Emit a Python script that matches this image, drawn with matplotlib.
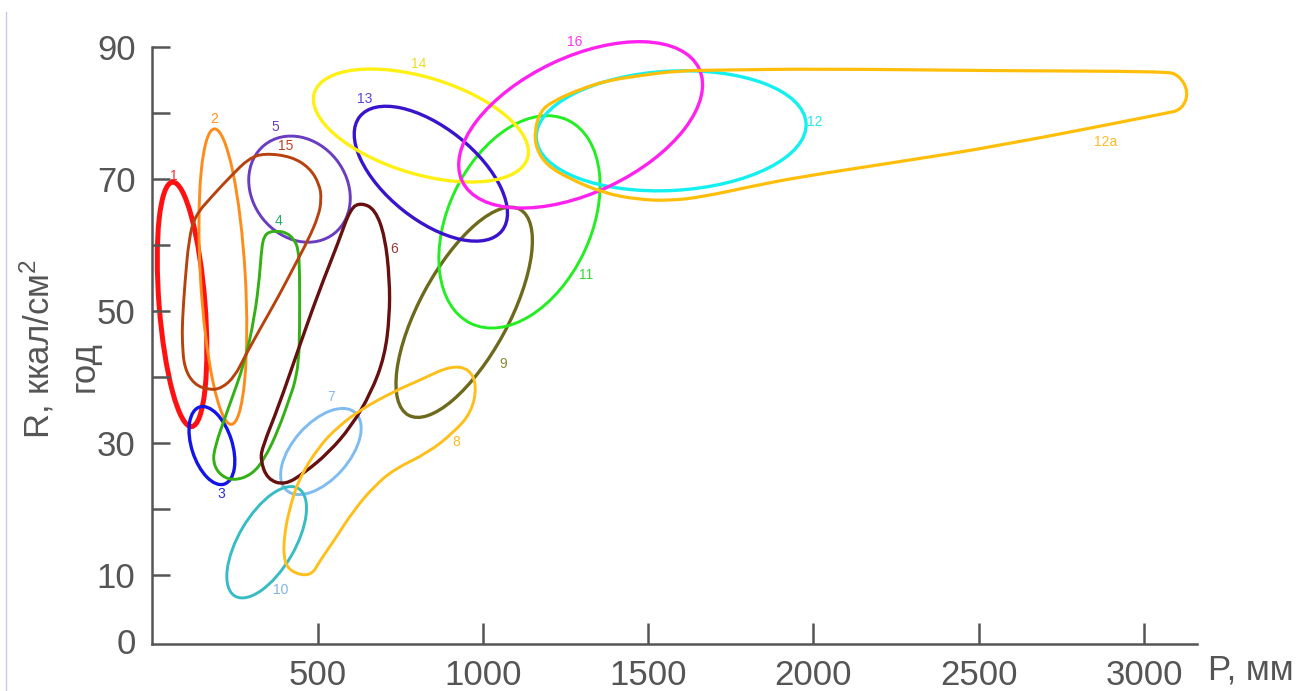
import numpy as np
import matplotlib
matplotlib.use('Agg')
import matplotlib.pyplot as plt
from matplotlib.patches import Circle, PathPatch
from matplotlib.path import Path
from matplotlib.transforms import Affine2D
from matplotlib.lines import Line2D

plt.rcParams['font.family'] = ['Liberation Sans', 'DejaVu Sans']
plt.rcParams['mathtext.fontset'] = 'custom'
plt.rcParams['mathtext.rm'] = 'Liberation Sans'
plt.rcParams['mathtext.default'] = 'regular'

# ellipse-like areas: centre (P mm, R) and two conjugate half-axes in data units
ell_names = ['1', '2', '3', '5', '7', '9', '10', '11', '12', '13', '14', '16']
ell_cx = [90.3, 213.7, 180.6, 445.5, 510.2, 943.6, 346.2, 1110.7, 1569.7, 842.8, 812.7, 1295.8]
ell_cy = [51.0, 55.2, 29.6, 68.46, 28.7, 49.8, 14.95, 63.5, 77.3, 70.8, 78.1, 78.2]
ell_ax = [28.9, 25.6, 37.3, 106.0, 104.1, 168.6, 96.0, 147.5, 407.9, 215.2, 322.4, 358.5]
ell_ay = [-18.52, -22.39, -5.84, -6.68, 5.87, 15.59, 8.15, 15.38, 1.11, -8.64, -4.93, 8.5]
ell_bx = [-69.2, -67.7, -58.4, -111.1, 63.2, 118.9, 72.8, 194.1, 9.6, -86.1, -42.1, 86.7]
ell_by = [-0.27, -0.20, -0.94, -4.48, -2.85, -3.28, -2.19, -4.74, -9.03, -5.46, -7.0, -9.31]

# irregular areas: outline points (P mm, R)
x4 = [339, 355, 376, 406, 430, 442, 446, 446, 443, 430, 421, 382, 339, 301, 250, 211, 186, 186, 232, 280, 310, 325, 331]
y4 = [61.4, 62.0, 62.1, 61.9, 60.8, 59.3, 56.3, 47.2, 42.2, 38.9, 37.6, 32.0, 27.5, 25.2, 24.3, 24.9, 26.6, 29.0, 35.5, 42.2, 49.2, 55.3, 59.6]

x6 = [632, 674, 704, 718, 718, 703, 662, 602, 533, 461, 401, 348, 327, 335, 382, 442, 503, 563, 600]
y6 = [66.4, 65.4, 61.3, 54.8, 49.2, 43.1, 37.6, 32.5, 28.5, 25.5, 23.6, 24.5, 27.5, 29.6, 35.5, 44.2, 52.8, 60.4, 65.6]

x8 = [452, 410, 397, 400, 412, 442, 503, 563, 632, 731, 813, 903, 960, 982, 965, 912, 834, 731, 671, 611, 551, 503, 485]
y8 = [9.9, 10.9, 12.9, 16.0, 19.4, 24.4, 29.4, 32.5, 35.1, 37.8, 39.6, 41.7, 41.2, 38.6, 34.6, 31.6, 28.5, 26.0, 23.4, 19.9, 15.3, 11.8, 10.2]

x15 = [339, 421, 476, 506, 512, 503, 473, 430, 382, 331, 280, 250, 211, 172, 126, 97, 91, 91, 99, 111, 129, 181, 241, 292]
y15 = [73.9, 73.4, 71.7, 69.2, 66.9, 64.4, 60.9, 56.8, 52.2, 47.7, 43.1, 40.1, 38.3, 38.0, 38.9, 41.4, 45.2, 48.3, 54.3, 60.9, 64.4, 67.4, 70.6, 73.1]

x12a = [1174, 1213, 1294, 1375, 1466, 1586, 1716, 2017, 2559, 3061, 3105, 3135, 3115, 3061, 2559, 2258, 1957, 1815, 1665, 1566, 1466, 1364, 1264, 1195, 1162, 1156]
y12a = [80.3, 81.8, 83.6, 84.9, 85.6, 86.4, 86.5, 86.7, 86.4, 86.3, 85.8, 83.2, 80.5, 79.9, 75.0, 72.6, 70.3, 68.9, 67.3, 66.7, 66.9, 67.9, 70.0, 72.0, 74.5, 77.2]

# area numbers
lab_text = ['1', '2', '3', '4', '5', '6', '7', '8', '9', '10', '11', '12', '12a', '13', '14', '15', '16']
lab_x = [66, 186, 208, 382, 373, 731, 542, 921, 1062, 388, 1312, 2005, 2884, 644, 807, 403, 1279]
lab_y = [70.5, 79.1, 22.3, 63.6, 77.9, 59.4, 36.9, 30.2, 41.9, 7.7, 55.4, 78.6, 75.6, 82.1, 87.4, 75.0, 90.8]

line_col = {'1': '#ff1111', '2': '#ff8c1a', '3': '#1414e6', '4': '#33b014', '5': '#6a3cc0',
            '6': '#661010', '7': '#7fbcf0', '8': '#ffbf1a', '9': '#6e6a1c', '10': '#38bcc4',
            '11': '#22ee22', '12': '#14f0f0', '12a': '#ffbe0a', '13': '#3a14cc',
            '14': '#fff014', '15': '#b8420e', '16': '#ff22ee'}
line_w = {'1': 3.6, '3': 2.4, '6': 2.4, '9': 2.4, '12': 2.4, '13': 2.4, '14': 2.4, '16': 2.4, '12a': 2.3}
lab_col = {'1': '#ff2a2a', '2': '#ff8c1a', '3': '#2a2ae6', '4': '#22aa66', '5': '#6a3cc8',
           '6': '#993838', '7': '#88bbee', '8': '#ffbb22', '9': '#888833', '10': '#7fb4e6',
           '11': '#33dd33', '12': '#22e8e8', '12a': '#ffbb22', '13': '#5a40dd',
           '14': '#eedd22', '15': '#bb4422', '16': '#ff33ee'}

grey = '#555555'


def smooth_outline(xs, ys):
    # closed quadratic bezier path using the outline points as control points
    pts = np.column_stack([xs, ys]).astype(float)
    mids = (pts + np.roll(pts, -1, axis=0)) / 2
    verts = [mids[-1]]
    codes = [Path.MOVETO]
    for p, m in zip(pts, mids):
        verts += [p, m]
        codes += [Path.CURVE3, Path.CURVE3]
    return Path(verts, codes)


fig = plt.figure(figsize=(12.96, 6.91), dpi=100)
ax = fig.add_axes([152.2 / 1296, 47 / 691, 1044.8 / 1296, 597 / 691])
ax.set_xlim(0, 3160)
ax.set_ylim(-0.47, 90)

for i, name in enumerate(ell_names):
    m = np.array([[ell_ax[i], ell_bx[i], ell_cx[i]],
                  [ell_ay[i], ell_by[i], ell_cy[i]],
                  [0, 0, 1]])
    c = Circle((0, 0), 1, fill=False, edgecolor=line_col[name],
               linewidth=line_w.get(name, 2.1),
               transform=Affine2D(m) + ax.transData, clip_on=False)
    ax.add_patch(c)

for name, xs, ys in [('4', x4, y4), ('6', x6, y6), ('8', x8, y8),
                     ('15', x15, y15), ('12a', x12a, y12a)]:
    ax.add_patch(PathPatch(smooth_outline(xs, ys), fill=False,
                           edgecolor=line_col[name],
                           linewidth=line_w.get(name, 2.1),
                           joinstyle='round', clip_on=False))

for t, x, y in zip(lab_text, lab_x, lab_y):
    ax.text(x, y, t, color=lab_col[t], fontsize=10, ha='center', va='center')

for s in ['top', 'right']:
    ax.spines[s].set_visible(False)
for s in ['left', 'bottom']:
    ax.spines[s].set_color(grey)
    ax.spines[s].set_linewidth(1.8)

ax.set_xticks([500, 1000, 1500, 2000, 2500, 3000])
ax.set_xticklabels(['500', '1000', '1500', '2000', '2500', '3000'])
ax.set_yticks([0, 10, 20, 30, 40, 50, 60, 70, 80, 90])
ax.set_yticklabels(['0', '10', '', '30', '', '50', '', '70', '', '90'])
ax.tick_params(axis='x', direction='in', length=15, width=1.8, pad=11,
               labelsize=25, color=grey, labelcolor=grey)
ax.tick_params(axis='y', direction='in', length=13, width=1.8, pad=12,
               labelsize=25, color=grey, labelcolor=grey)
ax.yaxis.get_major_ticks()[0].tick1line.set_visible(False)

ax.text(1.0105, -0.0436, 'P, мм', transform=ax.transAxes, fontsize=25,
        color=grey, ha='left', va='center')
# two-line y axis label
fig.text(37 / 1296, 1 - 349 / 691, 'R, ккал/см$^2$', rotation=90,
         ha='center', va='center', fontsize=25, color=grey)
fig.text(84 / 1296, 1 - 367 / 691, 'год', rotation=90,
         ha='center', va='center', fontsize=25, color=grey)

fig.add_artist(Line2D([5.5 / 1296, 5.5 / 1296], [0, 1 - 12 / 691],
                      color='#cfc4f2', linewidth=1.0))

fig.savefig('out.png', dpi=100)
